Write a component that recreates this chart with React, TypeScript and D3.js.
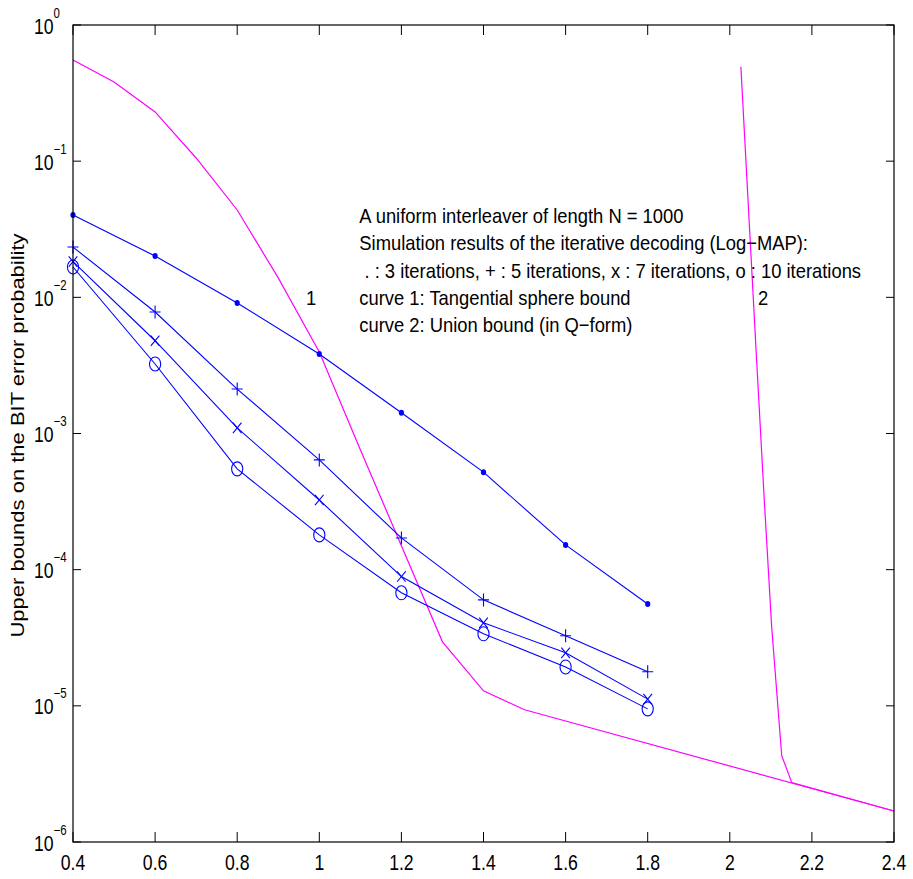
import React from "react";
import * as d3 from "d3";

const snr = [0.4, 0.6, 0.8, 1.0, 1.2, 1.4, 1.6, 1.8];
const iter3 = [0.0403, 0.0201, 0.0091, 0.00384, 0.00142, 5.2e-4, 1.52e-4, 5.6e-5];
const iter5 = [0.0234, 0.0078, 0.00212, 6.4e-4, 1.71e-4, 6.0e-5, 3.27e-5, 1.78e-5];
const iter7 = [0.0183, 0.0048, 0.0011, 3.25e-4, 8.9e-5, 4.07e-5, 2.45e-5, 1.12e-5];
const iter10 = [0.0167, 0.00324, 5.5e-4, 1.8e-4, 6.76e-5, 3.38e-5, 1.93e-5, 9.5e-6];

const tsbX = [0.4, 0.5, 0.6, 0.7, 0.8, 0.9, 1.0, 1.1, 1.2, 1.3, 1.4, 1.5, 2.4];
const tsbY = [0.553, 0.381, 0.23, 0.1055, 0.0438, 0.0139, 0.00397, 7.6e-4, 1.5e-4, 2.95e-5, 1.29e-5, 9.35e-6, 1.69e-6];

const ubX = [2.027, 2.064, 2.084, 2.102, 2.1265, 2.151, 2.4];
const ubY = [0.494, 0.0041, 3.25e-4, 3.8e-5, 4.3e-6, 2.73e-6, 1.69e-6];

const xTicks = [0.4, 0.6, 0.8, 1, 1.2, 1.4, 1.6, 1.8, 2, 2.2, 2.4];
const yExps = [0, -1, -2, -3, -4, -5, -6];

const noteLines = [
  "A uniform interleaver of length N = 1000",
  "Simulation results of the iterative decoding (Log\u2212MAP):",
  " . : 3 iterations, + : 5 iterations, x : 7 iterations, o : 10 iterations",
  "curve 1: Tangential sphere bound",
  "curve 2: Union bound (in Q\u2212form)",
];
const yLabel = "Upper bounds on the BIT error probability";

const W = 913, H = 879;
const L = 73, R = 894, T = 25, B = 842;
const SX = 0.82;
const SX_NOTE = 0.875;
const FONT = "'Liberation Sans', Arial, Helvetica, sans-serif";
const BLUE = "#0000ff";
const MAG = "#ff00ff";

export default function App() {
  const x = d3.scaleLinear().domain([0.4, 2.4]).range([L, R]);
  const y = d3.scaleLog().domain([1e-6, 1]).range([B, T]);
  const line = d3.line<[number, number]>().x(d => x(d[0])).y(d => y(d[1]));

  const series = [iter3, iter5, iter7, iter10];
  const markers = ["dot", "plus", "cross", "circle"];

  const markerEl = (kind: string, px: number, py: number, key: string) => {
    if (kind === "dot") return <ellipse key={key} cx={px} cy={py} rx={2.6} ry={3} fill={BLUE} />;
    if (kind === "plus") {
      const hw = 5.5, hh = 6.5;
      return <path key={key} d={`M${px - hw},${py}H${px + hw}M${px},${py - hh}V${py + hh}`} stroke={BLUE} strokeWidth={1.1} fill="none" />;
    }
    if (kind === "cross") {
      const hw = 4.3, hh = 5.2;
      return <path key={key} d={`M${px - hw},${py - hh}L${px + hw},${py + hh}M${px - hw},${py + hh}L${px + hw},${py - hh}`} stroke={BLUE} strokeWidth={1.1} fill="none" />;
    }
    return <ellipse key={key} cx={px} cy={py} rx={5.6} ry={7} stroke={BLUE} strokeWidth={1.1} fill="none" />;
  };

  const txt = (s: string, tx: number, ty: number, size: number, anchor: string, sx: number, key?: string) => (
    <text key={key} transform={`translate(${tx},${ty}) scale(${sx},1)`} fontSize={size} textAnchor={anchor} fontFamily={FONT} fill="#000" style={{ whiteSpace: "pre" }}>{s}</text>
  );

  return (
    <svg width={W} height={H} style={{ position: "absolute", left: 0, top: 0, display: "block", background: "#fff" }}>
      <rect x={0} y={0} width={W} height={H} fill="#fff" />
      {/* TSB and union bound */}
      <path d={line(tsbX.map((v, i) => [v, tsbY[i]]))!} stroke={MAG} strokeWidth={1.2} fill="none" />
      <path d={line(ubX.map((v, i) => [v, ubY[i]]))!} stroke={MAG} strokeWidth={1.2} fill="none" />
      {/* simulation series */}
      {series.map((s, si) => (
        <g key={si}>
          <path d={line(snr.map((v, i) => [v, s[i]]))!} stroke={BLUE} strokeWidth={1.1} fill="none" />
          {snr.map((v, i) => markerEl(markers[si], x(v), y(s[i]), `${si}-${i}`))}
        </g>
      ))}
      {/* axes box */}
      <rect x={L} y={T} width={R - L} height={B - T} fill="none" stroke="#000" strokeWidth={1.2} />
      {xTicks.map((t, i) => (
        <g key={`xt${i}`}>
          <line x1={x(t)} x2={x(t)} y1={B} y2={B - 10} stroke="#000" strokeWidth={1} />
          <line x1={x(t)} x2={x(t)} y1={T} y2={T + 10} stroke="#000" strokeWidth={1} />
          {txt(String(t), x(t), B + 27.5, 21.5, "middle", SX)}
        </g>
      ))}
      {yExps.map((e, i) => {
        const yy = y(Math.pow(10, e));
        return (
          <g key={`yt${i}`}>
            <line x1={L} x2={L + 8} y1={yy} y2={yy} stroke="#000" strokeWidth={1} />
            <line x1={R} x2={R - 8} y1={yy} y2={yy} stroke="#000" strokeWidth={1} />
            <text transform={`translate(34,${yy + 8.5}) scale(${SX},1)`} fontFamily={FONT} fill="#000">
              <tspan fontSize={21.5}>10</tspan>
              <tspan fontSize={14} dy={-16}>{e === 0 ? "0" : `\u2212${-e}`}</tspan>
            </text>
          </g>
        );
      })}
      {/* y label */}
      <text transform={`translate(24,${(T + B) / 2 + 2}) scale(${SX},1) rotate(-90)`} fontSize={22} textAnchor="middle" fontFamily={FONT} fill="#000">{yLabel}</text>
      {/* annotations */}
      {noteLines.map((s, i) => txt(s, x(1.1) - 1, 223 + i * 27.3, 21, "start", SX_NOTE, `n${i}`))}
      {txt("1", x(0.98), 305, 21, "middle", SX_NOTE)}
      {txt("2", x(2.081), 305, 21, "middle", SX_NOTE)}
    </svg>
  );
}
